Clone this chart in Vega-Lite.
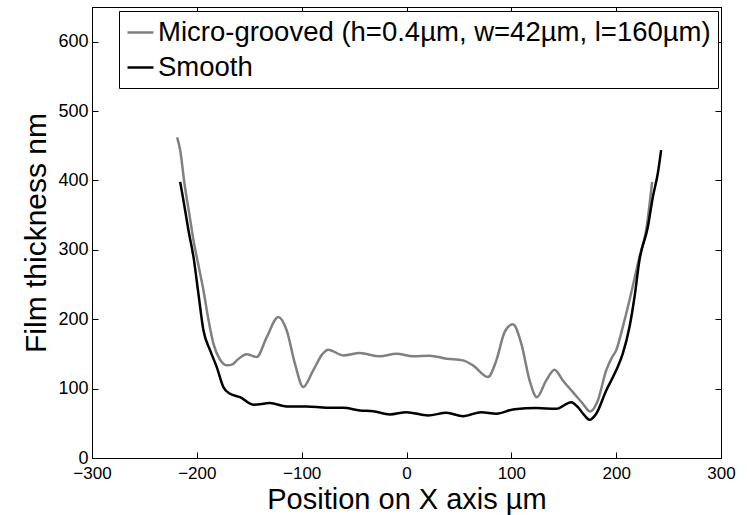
{
  "$schema": "https://vega.github.io/schema/vega-lite/v6.json",
  "width": 629,
  "height": 451,
  "autosize": {"type": "none"},
  "padding": {"left": 92, "top": 7, "right": 26, "bottom": 57},
  "background": "white",
  "config": {
    "view": {"stroke": "black", "strokeWidth": 1},
    "font": "Liberation Sans",
    "axis": {
      "grid": false,
      "domainColor": "black",
      "domainWidth": 1,
      "tickColor": "black",
      "tickSize": -6,
      "tickWidth": 1,
      "labelFont": "Liberation Sans",
      "labelFontSize": 18,
      "labelColor": "black",
      "labelFlush": false,
      "titleFont": "Liberation Sans",
      "titleFontSize": 30,
      "titleFontWeight": "normal",
      "titleColor": "black"
    }
  },
  "data": {
    "values": [
      {"series": "Micro-grooved (h=0.4µm, w=42µm, l=160µm)", "x": -218.8, "y": 462},
      {"series": "Micro-grooved (h=0.4µm, w=42µm, l=160µm)", "x": -215.9, "y": 443.7},
      {"series": "Micro-grooved (h=0.4µm, w=42µm, l=160µm)", "x": -211.8, "y": 395.6},
      {"series": "Micro-grooved (h=0.4µm, w=42µm, l=160µm)", "x": -207, "y": 350},
      {"series": "Micro-grooved (h=0.4µm, w=42µm, l=160µm)", "x": -203.2, "y": 313.9},
      {"series": "Micro-grooved (h=0.4µm, w=42µm, l=160µm)", "x": -198.5, "y": 278},
      {"series": "Micro-grooved (h=0.4µm, w=42µm, l=160µm)", "x": -193.7, "y": 241.7},
      {"series": "Micro-grooved (h=0.4µm, w=42µm, l=160µm)", "x": -189, "y": 200},
      {"series": "Micro-grooved (h=0.4µm, w=42µm, l=160µm)", "x": -184.2, "y": 164.8},
      {"series": "Micro-grooved (h=0.4µm, w=42µm, l=160µm)", "x": -178, "y": 142},
      {"series": "Micro-grooved (h=0.4µm, w=42µm, l=160µm)", "x": -171.4, "y": 133.5},
      {"series": "Micro-grooved (h=0.4µm, w=42µm, l=160µm)", "x": -166, "y": 135},
      {"series": "Micro-grooved (h=0.4µm, w=42µm, l=160µm)", "x": -161.9, "y": 140.7},
      {"series": "Micro-grooved (h=0.4µm, w=42µm, l=160µm)", "x": -152.4, "y": 149.4},
      {"series": "Micro-grooved (h=0.4µm, w=42µm, l=160µm)", "x": -142.9, "y": 145.5},
      {"series": "Micro-grooved (h=0.4µm, w=42µm, l=160µm)", "x": -133.3, "y": 174.3},
      {"series": "Micro-grooved (h=0.4µm, w=42µm, l=160µm)", "x": -122.3, "y": 203.2},
      {"series": "Micro-grooved (h=0.4µm, w=42µm, l=160µm)", "x": -114.3, "y": 184},
      {"series": "Micro-grooved (h=0.4µm, w=42µm, l=160µm)", "x": -106.4, "y": 135.9},
      {"series": "Micro-grooved (h=0.4µm, w=42µm, l=160µm)", "x": -98.5, "y": 102.2},
      {"series": "Micro-grooved (h=0.4µm, w=42µm, l=160µm)", "x": -89, "y": 126.3},
      {"series": "Micro-grooved (h=0.4µm, w=42µm, l=160µm)", "x": -80, "y": 150},
      {"series": "Micro-grooved (h=0.4µm, w=42µm, l=160µm)", "x": -74.7, "y": 156.1},
      {"series": "Micro-grooved (h=0.4µm, w=42µm, l=160µm)", "x": -60.4, "y": 147.9},
      {"series": "Micro-grooved (h=0.4µm, w=42µm, l=160µm)", "x": -44.5, "y": 151.2},
      {"series": "Micro-grooved (h=0.4µm, w=42µm, l=160µm)", "x": -25.4, "y": 146.5},
      {"series": "Micro-grooved (h=0.4µm, w=42µm, l=160µm)", "x": -9.5, "y": 150.3},
      {"series": "Micro-grooved (h=0.4µm, w=42µm, l=160µm)", "x": 6.3, "y": 146.5},
      {"series": "Micro-grooved (h=0.4µm, w=42µm, l=160µm)", "x": 22.2, "y": 147.5},
      {"series": "Micro-grooved (h=0.4µm, w=42µm, l=160µm)", "x": 38.1, "y": 143.1},
      {"series": "Micro-grooved (h=0.4µm, w=42µm, l=160µm)", "x": 53.9, "y": 140.7},
      {"series": "Micro-grooved (h=0.4µm, w=42µm, l=160µm)", "x": 63.4, "y": 133.5},
      {"series": "Micro-grooved (h=0.4µm, w=42µm, l=160µm)", "x": 77.7, "y": 116.6},
      {"series": "Micro-grooved (h=0.4µm, w=42µm, l=160µm)", "x": 85.7, "y": 140.7},
      {"series": "Micro-grooved (h=0.4µm, w=42µm, l=160µm)", "x": 93.6, "y": 181.5},
      {"series": "Micro-grooved (h=0.4µm, w=42µm, l=160µm)", "x": 101.5, "y": 192.6},
      {"series": "Micro-grooved (h=0.4µm, w=42µm, l=160µm)", "x": 109.5, "y": 164.8},
      {"series": "Micro-grooved (h=0.4µm, w=42µm, l=160µm)", "x": 117.4, "y": 111.8},
      {"series": "Micro-grooved (h=0.4µm, w=42µm, l=160µm)", "x": 124.4, "y": 87.7},
      {"series": "Micro-grooved (h=0.4µm, w=42µm, l=160µm)", "x": 133.3, "y": 111.8},
      {"series": "Micro-grooved (h=0.4µm, w=42µm, l=160µm)", "x": 141.2, "y": 127.3},
      {"series": "Micro-grooved (h=0.4µm, w=42µm, l=160µm)", "x": 149.1, "y": 111.8},
      {"series": "Micro-grooved (h=0.4µm, w=42µm, l=160µm)", "x": 158.7, "y": 95},
      {"series": "Micro-grooved (h=0.4µm, w=42µm, l=160µm)", "x": 168.2, "y": 78.2},
      {"series": "Micro-grooved (h=0.4µm, w=42µm, l=160µm)", "x": 175.2, "y": 67.1},
      {"series": "Micro-grooved (h=0.4µm, w=42µm, l=160µm)", "x": 182.5, "y": 83},
      {"series": "Micro-grooved (h=0.4µm, w=42µm, l=160µm)", "x": 190.5, "y": 126.3},
      {"series": "Micro-grooved (h=0.4µm, w=42µm, l=160µm)", "x": 196, "y": 145},
      {"series": "Micro-grooved (h=0.4µm, w=42µm, l=160µm)", "x": 200, "y": 155.1},
      {"series": "Micro-grooved (h=0.4µm, w=42µm, l=160µm)", "x": 206.3, "y": 188.7},
      {"series": "Micro-grooved (h=0.4µm, w=42µm, l=160µm)", "x": 212.7, "y": 227.3},
      {"series": "Micro-grooved (h=0.4µm, w=42µm, l=160µm)", "x": 222.2, "y": 289.8},
      {"series": "Micro-grooved (h=0.4µm, w=42µm, l=160µm)", "x": 228.6, "y": 328.3},
      {"series": "Micro-grooved (h=0.4µm, w=42µm, l=160µm)", "x": 234.3, "y": 398},
      {"series": "Smooth", "x": -215.9, "y": 398},
      {"series": "Smooth", "x": -212.8, "y": 371.6},
      {"series": "Smooth", "x": -208, "y": 328.3},
      {"series": "Smooth", "x": -203.2, "y": 289.8},
      {"series": "Smooth", "x": -198.5, "y": 237},
      {"series": "Smooth", "x": -193.7, "y": 184},
      {"series": "Smooth", "x": -187.3, "y": 155.1},
      {"series": "Smooth", "x": -181, "y": 131},
      {"series": "Smooth", "x": -174.7, "y": 102.2},
      {"series": "Smooth", "x": -168.3, "y": 92.6},
      {"series": "Smooth", "x": -158.8, "y": 87.7},
      {"series": "Smooth", "x": -146.1, "y": 76.8},
      {"series": "Smooth", "x": -130.2, "y": 79.1},
      {"series": "Smooth", "x": -114.3, "y": 74.3},
      {"series": "Smooth", "x": -95.2, "y": 74.3},
      {"series": "Smooth", "x": -76.2, "y": 72.4},
      {"series": "Smooth", "x": -60.4, "y": 72.4},
      {"series": "Smooth", "x": -44.5, "y": 68.5},
      {"series": "Smooth", "x": -31.8, "y": 67.5},
      {"series": "Smooth", "x": -15.9, "y": 62.8},
      {"series": "Smooth", "x": 0, "y": 66.1},
      {"series": "Smooth", "x": 20.6, "y": 61.3},
      {"series": "Smooth", "x": 38.1, "y": 65.2},
      {"series": "Smooth", "x": 53.9, "y": 60.3},
      {"series": "Smooth", "x": 71.4, "y": 66.1},
      {"series": "Smooth", "x": 85.7, "y": 63.8},
      {"series": "Smooth", "x": 103.1, "y": 70.4},
      {"series": "Smooth", "x": 123.8, "y": 71.9},
      {"series": "Smooth", "x": 142.9, "y": 71},
      {"series": "Smooth", "x": 157.1, "y": 80.5},
      {"series": "Smooth", "x": 163.5, "y": 73.3},
      {"series": "Smooth", "x": 169.8, "y": 61.3},
      {"series": "Smooth", "x": 174.6, "y": 55.1},
      {"series": "Smooth", "x": 181, "y": 63.8},
      {"series": "Smooth", "x": 190.5, "y": 97.4},
      {"series": "Smooth", "x": 200, "y": 126.3},
      {"series": "Smooth", "x": 206.3, "y": 150.4},
      {"series": "Smooth", "x": 212.7, "y": 188.7},
      {"series": "Smooth", "x": 217.5, "y": 232},
      {"series": "Smooth", "x": 222.2, "y": 285},
      {"series": "Smooth", "x": 230.2, "y": 333},
      {"series": "Smooth", "x": 235, "y": 376.3},
      {"series": "Smooth", "x": 239.7, "y": 410},
      {"series": "Smooth", "x": 242.9, "y": 443.7}
    ]
  },
  "layer": [
    {
      "mark": {"type": "line", "interpolate": "monotone", "strokeWidth": 2.5},
      "encoding": {
        "x": {
          "field": "x", "type": "quantitative",
          "scale": {"domain": [-300, 300], "nice": false, "zero": false},
          "axis": {"orient": "bottom", "values": [-300, -200, -100, 0, 100, 200, 300], "title": "Position on X axis µm", "labelPadding": 13, "titlePadding": 4, "titleFontSize": 29, "labelFontSize": 17}
        },
        "y": {
          "field": "y", "type": "quantitative",
          "scale": {"domain": [0, 650], "nice": false},
          "axis": {"orient": "left", "values": [0, 100, 200, 300, 400, 500, 600], "title": "Film thickness nm", "labelPadding": 10, "titlePadding": 6}
        },
        "color": {
          "field": "series", "type": "nominal",
          "scale": {"domain": ["Micro-grooved (h=0.4µm, w=42µm, l=160µm)", "Smooth"], "range": ["#808080", "#000000"]},
          "legend": {
            "title": null,
            "orient": "none",
            "legendX": 27,
            "legendY": 4,
            "strokeColor": "black",
            "fillColor": "white",
            "padding": 7,
            "symbolType": "stroke",
            "symbolSize": 676,
            "symbolStrokeWidth": 2.5,
            "labelFont": "Liberation Sans",
            "labelFontSize": 27.5,
            "labelColor": "black",
            "labelOffset": 3,
            "labelLimit": 700,
            "rowPadding": 7
          }
        }
      }
    },
    {
      "mark": {"type": "line", "opacity": 0},
      "encoding": {
        "x": {
          "field": "x", "type": "quantitative",
          "scale": {"domain": [-300, 300], "nice": false, "zero": false},
          "axis": {"orient": "top", "values": [-300, -200, -100, 0, 100, 200, 300], "labels": false, "title": null}
        },
        "y": {
          "field": "y", "type": "quantitative",
          "scale": {"domain": [0, 650], "nice": false},
          "axis": {"orient": "right", "values": [0, 100, 200, 300, 400, 500, 600], "labels": false, "title": null}
        },
        "detail": {"field": "series", "type": "nominal"}
      }
    }
  ],
  "resolve": {"axis": {"x": "independent", "y": "independent"}}
}
